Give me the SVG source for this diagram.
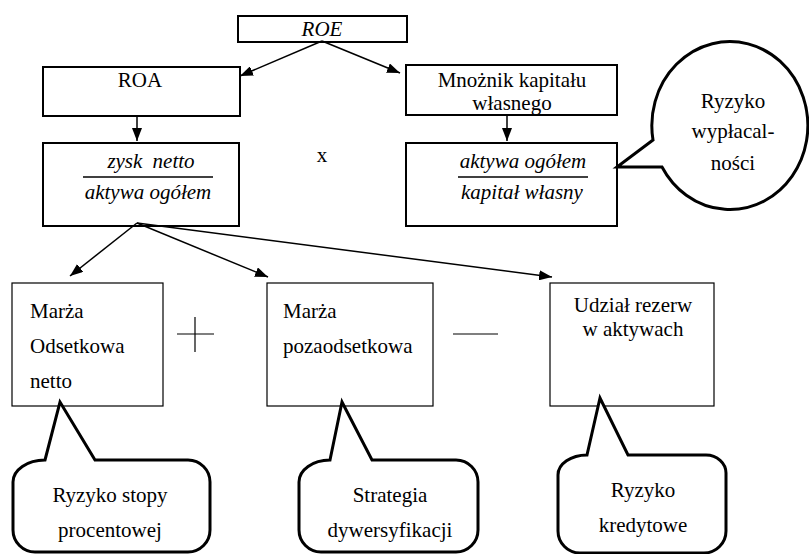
<svg xmlns="http://www.w3.org/2000/svg" width="809" height="554" viewBox="0 0 809 554">
<style>
text{font-family:'Liberation Serif','Tinos','DejaVu Serif',serif;font-size:21px;fill:#000}
.it{font-style:italic}
.c{text-anchor:middle}
.box{fill:#fff;stroke:#000;stroke-width:2}
.thin{fill:#fff;stroke:#000;stroke-width:1.2}
.call{fill:#fff;stroke:#000;stroke-width:3;stroke-linejoin:miter}
.conn line{stroke:#000;stroke-width:1.5}
</style>
<defs>
<marker id="ah" markerUnits="userSpaceOnUse" markerWidth="13" markerHeight="10" refX="13" refY="5" orient="auto"><path d="M0,0 L13,5 L0,10 z" fill="#000"/></marker>
</defs>
<g id="roe"><rect class="box" x="238" y="16" width="169" height="26"/><text class="it c" x="322" y="36">ROE</text></g>
<g id="roa"><rect class="box" x="43" y="67" width="197" height="49"/><text class="c" x="140" y="87">ROA</text></g>
<g id="mnoznik"><rect class="box" x="406" y="65" width="211" height="50"/><text class="c" x="512" y="87">Mnożnik kapitału</text><text class="c" x="512" y="110">własnego</text></g>
<g id="zysk"><rect class="box" x="43" y="143" width="196" height="83"/><text class="it c" x="151" y="168" word-spacing="5">zysk netto</text><line x1="83" y1="177" x2="213" y2="177" stroke="#000" stroke-width="1.5"/><text class="it c" x="148" y="199">aktywa ogółem</text></g>
<g id="times"><text class="c" x="322" y="162">x</text></g>
<g id="aktywa"><rect class="box" x="406" y="143" width="211" height="83"/><text class="it c" x="523" y="168">aktywa ogółem</text><line x1="458" y1="177" x2="588" y2="177" stroke="#000" stroke-width="1.5"/><text class="it c" x="522" y="199">kapitał własny</text></g>
<g id="wyplacalnosc"><path class="call" d="M653,140 L617,167 L662,167 A78,84 0 1 0 653,140 Z"/><text class="c" x="733" y="108">Ryzyko</text><text class="c" x="733" y="138">wypłacal-</text><text class="c" x="733" y="170">ności</text></g>
<g id="marza-odsetkowa"><rect class="thin" x="12" y="283" width="151" height="123"/><text x="30" y="318">Marża</text><text x="30" y="353">Odsetkowa</text><text x="30" y="388">netto</text></g>
<g id="plus"><line x1="177" y1="334" x2="214" y2="334" stroke="#000" stroke-width="1.2"/><line x1="195" y1="317" x2="195" y2="352" stroke="#000" stroke-width="1.2"/></g>
<g id="marza-poza"><rect class="thin" x="267" y="283" width="166" height="123"/><text x="283" y="318">Marża</text><text x="283" y="353">pozaodsetkowa</text></g>
<g id="minus"><line x1="453" y1="334" x2="498" y2="334" stroke="#000" stroke-width="1.2"/></g>
<g id="udzial"><rect class="thin" x="550" y="283" width="164" height="123"/><text class="c" x="633" y="312">Udział rezerw</text><text class="c" x="633" y="336">w aktywach</text></g>
<g id="ryzyko-stopy"><path class="call" d="M45,460 L60,402 L95,460 L188,460 A22,22 0 0 1 210,482 L210,530 A22,22 0 0 1 188,552 L35,552 A22,22 0 0 1 13,530 L13,482 A32,22 0 0 1 45,460 Z"/><text class="c" x="110" y="502">Ryzyko stopy</text><text class="c" x="110" y="537">procentowej</text></g>
<g id="strategia"><path class="call" d="M330,460 L342,402 L372,460 L456,460 A22,22 0 0 1 478,482 L478,530 A22,22 0 0 1 456,552 L321,552 A22,22 0 0 1 299,530 L299,482 A31,22 0 0 1 330,460 Z"/><text class="c" x="390" y="502">Strategia</text><text class="c" x="390" y="537">dywersyfikacji</text></g>
<g id="kredytowe"><path class="call" d="M587,455 L600,398 L628,455 L706,455 A20,18 0 0 1 726,473 L726,531 A22,22 0 0 1 704,553 L580,553 A22,22 0 0 1 558,531 L558,475 A29,20 0 0 1 587,455 Z"/><text class="c" x="643" y="497">Ryzyko</text><text class="c" x="643" y="532">kredytowe</text></g>
<g id="connectors" class="conn">
<line x1="322" y1="41" x2="240" y2="76" marker-end="url(#ah)"/>
<line x1="322" y1="41" x2="400" y2="73" marker-end="url(#ah)"/>
<line x1="137" y1="116" x2="137" y2="141" marker-end="url(#ah)"/>
<line x1="507" y1="115" x2="507" y2="141" marker-end="url(#ah)"/>
<line x1="137" y1="223" x2="70" y2="276" marker-end="url(#ah)"/>
<line x1="137" y1="223" x2="268" y2="277" marker-end="url(#ah)"/>
<line x1="137" y1="223" x2="552" y2="277" marker-end="url(#ah)"/>
</g>
</svg>
